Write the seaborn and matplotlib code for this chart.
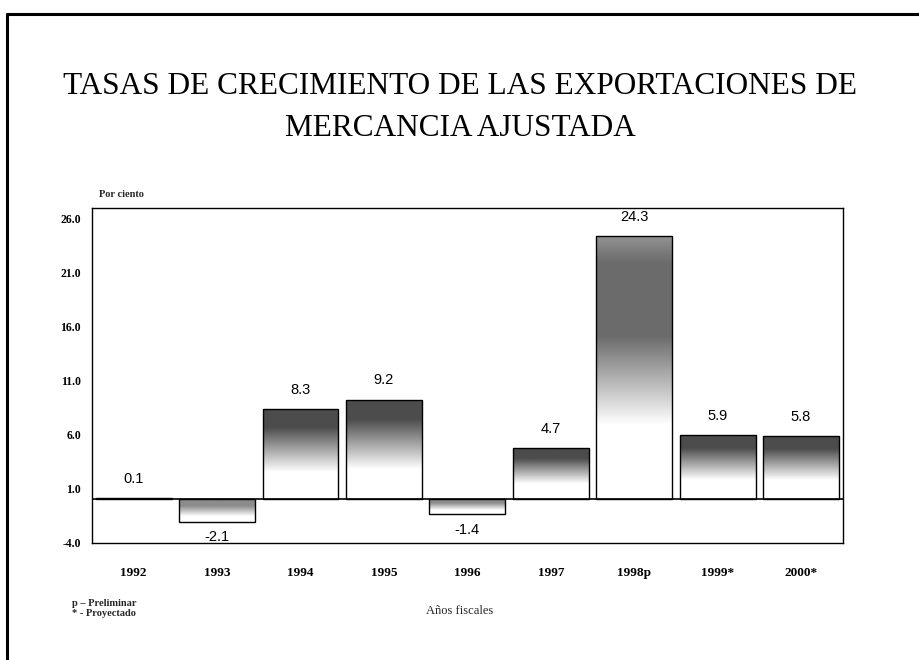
import numpy as np
import pandas as pd
import matplotlib
matplotlib.use("Agg")
import matplotlib.pyplot as plt
import seaborn as sns
from matplotlib.lines import Line2D

# ---- data ----
years = ["1992", "1993", "1994", "1995", "1996", "1997", "1998p", "1999*", "2000*"]
growth = [0.1, -2.1, 8.3, 9.2, -1.4, 4.7, 24.3, 5.9, 5.8]
value_labels = ["0.1", "-2.1", "8.3", "9.2", "-1.4", "4.7", "24.3", "5.9", "5.8"]
y_ticks = [-4.0, 1.0, 6.0, 11.0, 16.0, 21.0, 26.0]

title_line1 = "TASAS DE CRECIMIENTO DE LAS EXPORTACIONES DE"
title_line2 = "MERCANCIA AJUSTADA"
y_unit = "Por ciento"
x_title = "Años fiscales"
notes = "p – Preliminar\n* - Proyectado"

df = pd.DataFrame({"year": years, "growth": growth})

sns.set_theme(style="white")
plt.rcParams["font.family"] = ["Liberation Serif", "DejaVu Serif"]

fig = plt.figure(figsize=(9.2, 6.6), dpi=100)
ax = fig.add_axes([0.100, 0.177, 0.816, 0.508])

sns.barplot(data=df, x="year", y="growth", color="white", edgecolor="black",
            linewidth=1.0, width=0.91, ax=ax, saturation=1)

ax.set_ylim(-4.07, 26.94)
ax.set_xlim(-0.5, len(years) - 0.5)


def gradient_values(n, positive, is_big):
    t = np.linspace(0, 1, n)  # 0 = bottom of bar, 1 = top
    if positive:
        if is_big:
            start, full, dark = 0.28, 0.62, 0.42
        else:
            start, full, dark = 0.30, 0.80, 0.30
        g = np.clip((t - start) / (full - start), 0, 1)
        vals = 1.0 - g * (1.0 - dark)
        if is_big:
            vals = np.where(t > 0.9, vals + (t - 0.9) * 1.5, vals)
    else:
        g = np.clip((t - 0.25) / (0.7 - 0.25), 0, 1)
        vals = 1.0 - g * (1.0 - 0.55)
    return vals


for patch, val in zip(ax.patches, growth):
    x0 = patch.get_x()
    w = patch.get_width()
    y0 = patch.get_y()
    h = patch.get_height()
    yb, yt = min(y0, y0 + h), max(y0, y0 + h)
    if abs(h) < 0.5:
        continue
    vals = gradient_values(200, val > 0, val > 20)
    img = np.tile(vals[:, None], (1, 10))
    im = ax.imshow(img, cmap="gray", vmin=0, vmax=1, aspect="auto",
                   extent=[x0, x0 + w, yb, yt], origin="lower", zorder=2,
                   interpolation="bilinear")
    im.set_clip_path(patch)
    patch.set_facecolor("none")
    patch.set_zorder(3)

ax.set_xlim(-0.5, len(years) - 0.5)
ax.set_ylim(-4.07, 26.94)

ax.axhline(0, color="black", lw=1.2, zorder=4)

for i, (val, lab) in enumerate(zip(growth, value_labels)):
    if val >= 0:
        ax.annotate(lab, (i, val), xytext=(0, 9), textcoords="offset points",
                    ha="center", va="bottom", fontsize=10.5,
                    family=["Liberation Sans"], color="black")
    else:
        ax.annotate(lab, (i, val), xytext=(0, -6), textcoords="offset points",
                    ha="center", va="top", fontsize=10.5,
                    family=["Liberation Sans"], color="black")

ax.set_yticks(y_ticks)
ax.set_yticklabels([f"{v:.1f}" for v in y_ticks], fontsize=8.5, fontweight="bold")
ax.set_xticks(range(len(years)))
ax.set_xticklabels(years, fontsize=9.5, fontweight="bold")
ax.tick_params(axis="both", length=0, pad=8, colors="black")
ax.tick_params(axis="x", pad=17)
ax.set_xlabel("")
ax.set_ylabel("")

for s in ax.spines.values():
    s.set_visible(True)
    s.set_color("black")
    s.set_linewidth(1.0)

fig.text(0.5, 1 - 87 / 660, title_line1, ha="center", va="center", fontsize=22.5,
         color="black")
fig.text(0.5, 1 - 128 / 660, title_line2, ha="center", va="center", fontsize=22.5,
         color="black")
fig.text(0.108, 0.705, y_unit, ha="left", va="center", fontsize=7.5,
         fontweight="bold")
fig.text(0.5, 0.075, x_title, ha="center", va="center", fontsize=9)
fig.text(0.078, 0.078, notes, ha="left", va="center", fontsize=7.5,
         fontweight="bold", linespacing=1.1)

# outer frame (left and top edges visible)
fig.add_artist(Line2D([0.0075, 0.0075], [0.0, 0.979], transform=fig.transFigure,
                      color="black", lw=2.2))
fig.add_artist(Line2D([0.0075, 1.0], [0.979, 0.979], transform=fig.transFigure,
                      color="black", lw=2.2))

fig.savefig("out.png", dpi=100, facecolor="white")
